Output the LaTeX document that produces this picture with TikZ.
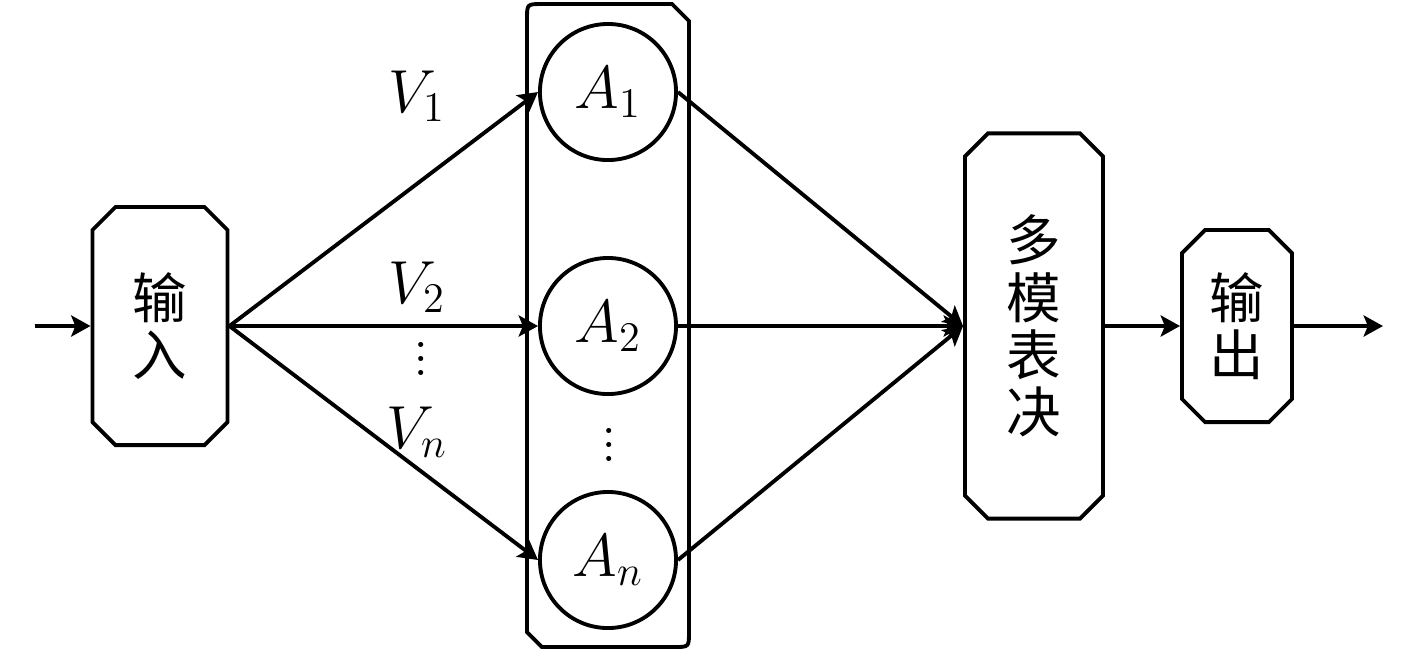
\documentclass[tikz,border=0pt]{standalone}
\usepackage{fontspec}
\newfontfamily\cjk{Noto Sans CJK SC}
\usepackage{amsmath}
\usetikzlibrary{arrows.meta,shapes.misc,positioning}
\tikzset{
  kasten/.style={draw,line width=1.1pt,chamfered rectangle,chamfered rectangle xsep=0.13cm,inner sep=0pt,align=center,font=\cjk\fontsize{15.5}{16.3}\selectfont},
  kreis/.style={draw,circle,line width=1.1pt,minimum size=1.36cm,inner sep=0pt,font=\fontsize{17.5}{20}\selectfont},
  pfeil/.style={line width=1.1pt,-{Stealth[length=5.5pt,width=6pt,inset=1.2pt]}},
  marke/.style={inner sep=0pt,font=\fontsize{17.5}{20}\selectfont},
  punkte/.style={marke,text height=9.5pt,text depth=0pt}
}
\begin{document}
\begin{tikzpicture}[x=0.01cm,y=-0.01cm]
\useasboundingbox (0,0) rectangle (1417,653);
%Mitte aller Pfeile und Abstand der Kreise (in Pixel des Bildes)
  \pgfmathsetmacro{\ymitte}{326}
  \pgfmathsetmacro{\dA}{234}
\node[kasten,minimum width=1.35cm,minimum height=2.38cm] (shuru) at (160,\ymitte) {输\\入};
\foreach \i/\t in {1/1,2/2,3/n}{
\node[kreis] (A\i) at (608,{\ymitte+(\i-2)*\dA}) {$A_\t$};
}
%Rahmen um die Kreise: oben links und unten rechts rund, sonst abgeschraegt
\draw[line width=1.1pt] (542,647) -- (527,632) -- (527,19) .. controls (527,4) .. (542,4) -- (672,4) -- (689,21) -- (689,632) .. controls (689,647) .. (674,647) -- cycle;
\node[kasten,minimum width=1.38cm,minimum height=3.85cm] (biaojue) at (1034,\ymitte) {多\\模\\表\\决};
\node[kasten,minimum width=1.10cm,minimum height=1.92cm] (shuchu) at (1237,\ymitte) {输\\出};
\coordinate (rein) at (35,\ymitte);
\coordinate (raus) at (1383,\ymitte);
\draw[pfeil] (rein) -- (shuru);
\foreach \i in {1,2,3}{
\draw[pfeil] (shuru.east) -- (A\i.west);
\draw[pfeil] (A\i.east) -- (biaojue.west);
}
\draw[pfeil] (biaojue) -- (shuchu);
\draw[pfeil] (shuchu) -- (raus);
\node[marke] (V1) at (417,96) {$V_1$};
\node[marke] (V2) at (417,287) {$V_2$};
\node[punkte] (punkteV) at (421,359) {$\vdots$};
\node[marke] (Vn) at (417,432) {$V_n$};
\node[punkte] (punkteA) at (609,445) {$\vdots$};
\end{tikzpicture}
\end{document}
